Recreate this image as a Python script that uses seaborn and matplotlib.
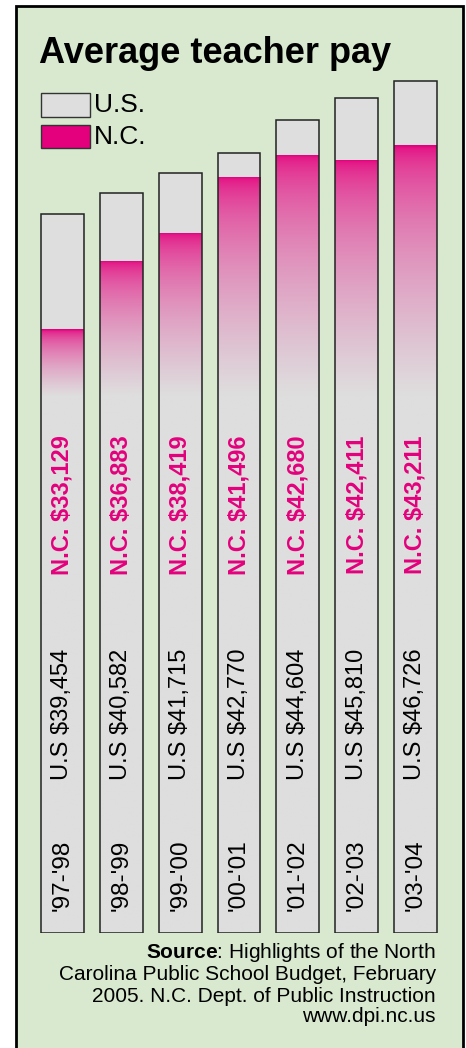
import numpy as np
import pandas as pd
import matplotlib
matplotlib.use("Agg")
import matplotlib.pyplot as plt
from matplotlib import font_manager
from matplotlib.patches import Rectangle
import seaborn as sns

# ---- data ----
years = ["'97-'98", "'98-'99", "'99-'00", "'00-'01", "'01-'02", "'02-'03", "'03-'04"]
us_pay = [39454, 40582, 41715, 42770, 44604, 45810, 46726]
nc_pay = [33129, 36883, 38419, 41496, 42680, 42411, 43211]
title = "Average teacher pay"
source_lines = [r"$\mathbf{Source}$: Highlights of the North",
                "Carolina Public School Budget, February",
                "2005. N.C. Dept. of Public Instruction",
                "www.dpi.nc.us"]

# ---- style ----
sns.set_theme(style="white")
plt.rcParams['font.family'] = ['Liberation Sans', 'DejaVu Sans']
plt.rcParams['text.color'] = 'black'
plt.rcParams['mathtext.fontset'] = 'custom'
plt.rcParams['mathtext.rm'] = 'Liberation Sans'
plt.rcParams['mathtext.bf'] = 'Liberation Sans:bold'

GREEN = "#d8e9cf"
GRAY = "#dedede"
PINK = "#e4007c"
FADE_END = 29500  # value level where the pink gradient has faded to gray

try:
    font_manager.findfont(font_manager.FontProperties(family="Liberation Sans Narrow", weight="bold"),
                          fallback_to_default=False)
    title_font = dict(family="Liberation Sans Narrow", size=31.5)
except Exception:
    title_font = dict(family="Liberation Sans", size=26)

W, H = 466, 1048
fig = plt.figure(figsize=(W / 100, H / 100), dpi=100)
fig.patch.set_facecolor("white")

# outer frame
frame = Rectangle((16 / W, -0.02), (462.5 - 16) / W, 1.02 - 6 / H, transform=fig.transFigure,
                  facecolor=GREEN, edgecolor="black", linewidth=2.0, zorder=-1)
fig.add_artist(frame)

ax = fig.add_axes([30 / W, (H - 933) / H, 420 / W, 873 / H])
ax.patch.set_visible(False)

df = pd.DataFrame({"year": years, "us": us_pay, "nc": nc_pay})

sns.barplot(data=df, x="year", y="us", color=GRAY, saturation=1, width=0.73,
            linewidth=0, ax=ax, zorder=1)
us_patches = list(ax.patches)
n0 = len(ax.patches)
sns.barplot(data=df, x="year", y="nc", width=0.73, ax=ax, fill=False,
            linewidth=0, zorder=1)
nc_patches = list(ax.patches)[n0:]

pink_rgb = np.array(matplotlib.colors.to_rgb(PINK))
gray_rgb = np.array(matplotlib.colors.to_rgb(GRAY))

for p in nc_patches:
    x0 = p.get_x()
    w = p.get_width()
    top = p.get_height()
    vals = np.linspace(top, 0, 400)
    t = np.clip((top - vals) / (top - FADE_END), 0, 1)
    cols = pink_rgb[None, :] + (gray_rgb - pink_rgb)[None, :] * np.sqrt(t)[:, None]
    img = cols[:, None, :]
    im = ax.imshow(img, extent=(x0, x0 + w, 0, top), aspect="auto", origin="upper",
                   zorder=2, interpolation="bilinear")
    im.set_clip_path(p)

for p in us_patches:
    ax.add_patch(Rectangle(p.get_xy(), p.get_width(), p.get_height(), fill=False,
                           edgecolor="#222222", linewidth=1.1, zorder=4))

# labels in bars
for i, (yr, u, n) in enumerate(zip(years, us_pay, nc_pay)):
    tr = ax.get_xaxis_transform()
    ax.text(i, 0.490, f"N.C. ${n:,}", rotation=90, ha="center", va="center",
            color=PINK, fontsize=17, fontweight="bold", transform=tr, zorder=5)
    ax.text(i, 0.251, f"U.S ${u:,}", rotation=90, ha="center", va="center",
            color="black", fontsize=17, transform=tr, zorder=5)
    ax.text(i, 0.0664, yr, rotation=90, ha="center", va="center",
            color="black", fontsize=17.5, transform=tr, zorder=5)

ax.set_xlim(-0.5524, 6.587)
ax.set_ylim(0, 873 / 0.01823)
ax.set_xlabel("")
ax.set_ylabel("")
ax.set_xticks([])
ax.set_yticks([])
for s in ax.spines.values():
    s.set_visible(False)

# title
fig.text(39 / W, 1 - 63 / H, title, ha="left", va="baseline", fontweight="bold",
         color="black", **title_font)

# legend (manual)
fig.add_artist(Rectangle((41 / W, 1 - 117 / H), 49 / W, 24 / H, transform=fig.transFigure,
                         facecolor=GRAY, edgecolor="#333333", linewidth=1))
fig.add_artist(Rectangle((41 / W, 1 - 148 / H), 49 / W, 23 / H, transform=fig.transFigure,
                         facecolor=PINK, edgecolor="#333333", linewidth=1))
fig.text(93.5 / W, 1 - 105 / H, "U.S.", ha="left", va="center", fontsize=19, color="black")
fig.text(93.5 / W, 1 - 136.5 / H, "N.C.", ha="left", va="center", fontsize=19, color="black")

# source
for line, yb in zip(source_lines, [958, 980.5, 1001.5, 1022]):
    fig.text(436 / W, 1 - yb / H, line, ha="right", va="baseline", fontsize=15, color="black")

fig.savefig("out.png", dpi=100, facecolor=fig.get_facecolor())
